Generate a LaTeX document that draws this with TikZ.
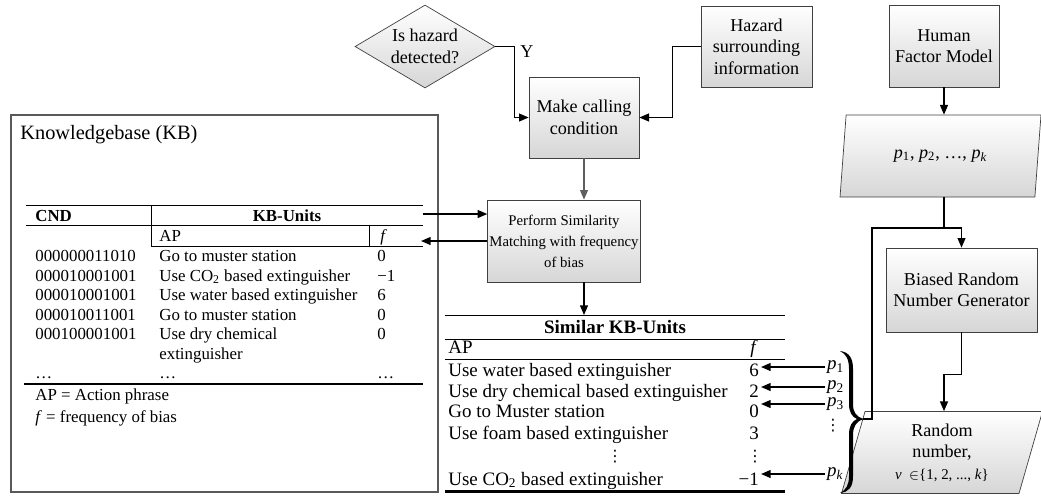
\documentclass[tikz,border=0pt]{standalone}
\usepackage{fontspec}
\setmainfont{Liberation Serif}
\newfontfamily\symfont{DejaVu Sans}
\usepackage{tikz}
\usetikzlibrary{shapes.geometric,arrows.meta,positioning,calc}
\definecolor{edgegray}{RGB}{64,64,64}
\definecolor{shadegray}{RGB}{214,214,214}
\definecolor{flowgray}{RGB}{95,95,95}
\newcommand{\boxfont}{\fontsize{10.3}{12.2}\selectfont}
\newcommand{\kbfont}{\fontsize{9.6}{11.1}\selectfont}
\newcommand{\simfont}{\fontsize{10.8}{12.5}\selectfont}
\newcommand{\kbheadfont}{\fontsize{11.6}{13}\selectfont}
\newcommand{\perffont}{\fontsize{8.4}{11.9}\selectfont}
\newcommand{\vdotfont}{\symfont\fontsize{9}{10}\selectfont}

\begin{document}
\begin{tikzpicture}[x=0.02cm,y=-0.02cm,
    proc/.style={draw=edgegray, top color=white, bottom color=shadegray, font=\boxfont, align=center, inner sep=1pt},
    io/.style={proc, trapezium, trapezium left angle=69, trapezium right angle=111, trapezium stretches body, minimum width=4.02cm, minimum height=1.64cm},
    flow/.style={-{Triangle[length=5.5pt,width=4.5pt]}, line width=0.8pt},
    txt/.style={inner sep=0pt, anchor=base west},
    thinrule/.style={line width=0.55pt},
    thickrule/.style={line width=1.4pt}]
    \useasboundingbox (0,0) rectangle (1041,495);

    % Knowledgebase frame
    \node[draw=gray!70!black, line width=0.8pt, minimum width=8.54cm, minimum height=7.54cm, inner sep=0pt] (kb) at (224.5,303.5) {};
    \node[txt, font=\kbheadfont] (kbtitle) at (20,139) {Knowledgebase (KB)};

    % KB table rules
    \draw[thinrule] (26,205.7) -- (423,205.7);
    \draw[thinrule] (26,225.7) -- (423,225.7);
    \draw[thinrule] (151,246) -- (423,246);
    \draw[thinrule] (151,205.7) -- (151,246);
    \draw[thinrule] (369,225.7) -- (369,246);
    \draw[thickrule] (24,384) -- (423,384);

    % KB table header
    \node[txt, font={\kbfont\bfseries}] (cndhead) at (35,221.5) {CND};
    \node[anchor=base, inner sep=0pt, font={\kbfont\bfseries}] (unithead) at (287,221.5) {KB-Units};
    \node[txt, font=\kbfont] (aphead) at (159,241.5) {AP};
    \node[txt, font={\kbfont\itshape}] (fhead) at (380,241.5) {f};

    % KB table rows
    \foreach \cnd/\ap/\fb [count=\i from 0] in {000000011010/Go to muster station/0,
        000010001001/Use CO\textsubscript{2} based extinguisher/−1,
        000010001001/Use water based extinguisher/6,
        000010011001/Go to muster station/0,
        000100001001/Use dry chemical/0} {
        \node[txt, font=\kbfont] (cnd\i) at (35,261.5+19.6*\i) {\cnd};
        \node[txt, font=\kbfont] (ap\i) at (159,261.5+19.6*\i) {\ap};
        \node[txt, font=\kbfont] (fb\i) at (377,261.5+19.6*\i) {\fb};
    }
    \node[txt, font=\kbfont] (ap5) at (159,359.5) {extinguisher};
    \foreach \x [count=\i] in {35,159,377}
        \node[txt, font=\kbfont] (kbdots\i) at (\x,378) {\dots};
    \node[txt, font=\kbfont] (legap) at (35,400.5) {AP = Action phrase};
    \node[txt, font=\kbfont] (legf) at (35,422) {\textit{f} = frequency of bias};

    % Flow boxes
    \node[proc, diamond, aspect=1.7, minimum width=2.8cm, minimum height=1.66cm, inner sep=0pt] (hazq) at (425,46.5) {Is hazard\\detected?};
    \node[font=\boxfont, inner sep=0pt] (ylab) at (527,52) {Y};
    \node[proc, minimum width=2.22cm, minimum height=1.62cm] (surr) at (756.5,46.5) {Hazard\\surrounding\\information};
    \node[proc, minimum width=2.2cm, minimum height=1.62cm] (make) at (584,117.5) {Make calling\\condition};
    \node[proc, font=\perffont, minimum width=3.04cm, minimum height=1.64cm] (perform) at (564,241) {Perform Similarity\\Matching with frequency\\of bias};
    \node[proc, minimum width=2.2cm, minimum height=1.64cm] (hfm) at (944,46) {Human\\Factor Model};
    \node[io] (plist) at (940.5,156) {\textit{p}\textsubscript{1}, \textit{p}\textsubscript{2}, \dots, \textit{p}\textsubscript{\textit{k}}};
    \node[proc, minimum width=3.02cm, minimum height=1.68cm] (brng) at (961.5,290) {Biased Random\\Number Generator};
    \node[io] (randnum) at (942,452.5) {Random\\number,\\{\fontsize{8.5}{10}\selectfont\textit{v}\enspace$\in$\{1, 2, ..., \textit{k}\}}};

    % Connectors
    \draw[flow] (hazq.east) -- ++(19,0) |- (make.west);
    \draw[flow] (surr.west) -- ++(-28,0) |- (make.east);
    \draw[flow, flowgray] (make.south) -- (make.south |- perform.north);
    \coordinate (kbout) at (423,214);
    \coordinate (kbin) at (421,241);
    \draw[flow] (kbout) -- (kbout -| perform.west);
    \draw[flow] (perform.west) -- (kbin);
    \coordinate (simtop) at (584,315);
    \draw[flow] (simtop |- perform.south) -- (simtop);
    \draw[flow] (hfm.south) -- (hfm.south |- plist.north);
    \coordinate (split) at (944,228);
    \draw[flow] (hfm.south |- plist.south) -- (split) -| (brng.north);
    \draw[flow] (brng.south) -- ++(0,42) -| (hfm.south |- randnum.north);

    % Similar KB-Units table
    \draw[thinrule] (445,315) -- (785,315);
    \draw[thinrule] (445,339) -- (785,339);
    \draw[thinrule] (445,359) -- (785,359);
    \draw[thickrule] (445,491.5) -- (785,491.5);
    \node[anchor=base, inner sep=0pt, font={\simfont\bfseries}] (simhead) at (615,333) {Similar KB-Units};
    \node[txt, font=\simfont] (saphead) at (448,353) {AP};
    \node[anchor=base, inner sep=0pt, font={\simfont\itshape}] (sfhead) at (753,353) {f};
    \foreach \ap/\fb/\yy [count=\i] in {Use water based extinguisher/6/376,
        Use dry chemical based extinguisher/2/397,
        Go to Muster station/0/417,
        Use foam based extinguisher/3/439,
        Use CO\textsubscript{2} based extinguisher/−1/485} {
        \node[txt, font=\simfont] (sap\i) at (448,\yy) {\ap};
        \node[anchor=base east, inner sep=1pt, font=\simfont] (sf\i) at (761,\yy) {\fb};
    }
    \node[font=\vdotfont, inner sep=0pt] (sapdots) at (615,457) {⋮};
    \node[font=\vdotfont, inner sep=0pt] (sfdots) at (755,457) {⋮};

    % Probabilities to frequencies
    \foreach \lab/\yy/\row in {1/367/1, 2/387/2, 3/404/3, \textit{k}/474/5} {
        \node[anchor=west, inner sep=1pt, font=\simfont] (plab\row) at (825,\yy) {\textit{p}\textsubscript{\lab}};
        \draw[flow] (plab\row.west) -- (plab\row.west -| sf\row.east);
    }
    \node[font=\vdotfont, inner sep=0pt] (pdots) at (833,426) {⋮};
    % Brace
    \fill (840,351) .. controls (849,352) and (853,358) .. (853,369) -- (853,404)
        .. controls (853,412) and (856,417) .. (864,419)
        .. controls (856,421) and (853,427) .. (853,435) -- (853,476)
        .. controls (853,487) and (849,492) .. (840,493)
        .. controls (846,490) and (849,485) .. (849,476) -- (849,435)
        .. controls (849,426) and (852,421) .. (857,419)
        .. controls (852,417) and (849,412) .. (849,404) -- (849,369)
        .. controls (849,359) and (846,354) .. (840,351) -- cycle;
    \coordinate (bracetip) at (863,419);
    \draw[line width=0.8pt] (split) -- ++(-72,0) |- (bracetip);
\end{tikzpicture}
\end{document}
